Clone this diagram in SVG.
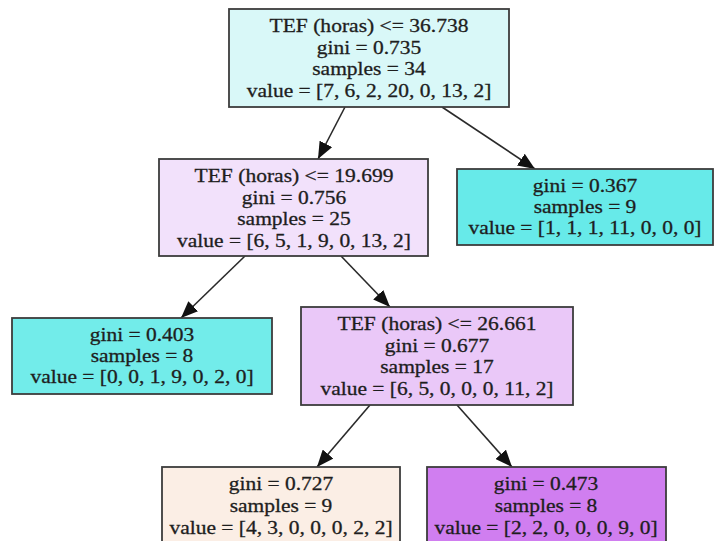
<svg xmlns="http://www.w3.org/2000/svg" width="715" height="541" viewBox="0 0 715 541">
  <style>
    .box { stroke: #3c3c3c; stroke-width: 1.8; }
    .lbl { font-family: "Liberation Serif", "Times New Roman", serif; font-size: 19px; fill: #1e1e1e; stroke: #1e1e1e; stroke-width: 0.3; text-anchor: middle;
           transform-box: fill-box; transform-origin: center; transform: scaleX(1.13); }
    .edge { stroke: #2a2a2a; stroke-width: 1.6; fill: none; marker-end: url(#arrow); }
  </style>
  <defs>
    <marker id="arrow" markerUnits="userSpaceOnUse" markerWidth="18" markerHeight="14" refX="17" refY="7" orient="auto">
      <path d="M0,0 L17,7 L0,14 z" fill="#111"/>
    </marker>
  </defs>
  <rect width="715" height="541" fill="#ffffff"/>

  <g id="connectors">
    <line class="edge" x1="345" y1="107" x2="318" y2="159"/>
    <line class="edge" x1="442" y1="107" x2="535" y2="169"/>
    <line class="edge" x1="245" y1="256" x2="181" y2="318"/>
    <line class="edge" x1="341" y1="256" x2="390" y2="307"/>
    <line class="edge" x1="370" y1="405" x2="317" y2="467"/>
    <line class="edge" x1="457" y1="405" x2="512" y2="467"/>
  </g>

  <g id="node0">
    <rect class="box" x="229" y="9" width="280" height="98" fill="#d9f8f8"/>
    <text class="lbl" x="369" y="32" textLength="176" lengthAdjust="spacingAndGlyphs">TEF (horas) &lt;= 36.738</text>
    <text class="lbl" x="369" y="54">gini = 0.735</text>
    <text class="lbl" x="369" y="75">samples = 34</text>
    <text class="lbl" x="369" y="97">value = [7, 6, 2, 20, 0, 13, 2]</text>
  </g>

  <g id="node1">
    <rect class="box" x="159" y="159" width="269" height="97" fill="#f2e1fb"/>
    <text class="lbl" x="294" y="182" textLength="176" lengthAdjust="spacingAndGlyphs">TEF (horas) &lt;= 19.699</text>
    <text class="lbl" x="294" y="204">gini = 0.756</text>
    <text class="lbl" x="294" y="225">samples = 25</text>
    <text class="lbl" x="294" y="247">value = [6, 5, 1, 9, 0, 13, 2]</text>
  </g>

  <g id="node2">
    <rect class="box" x="457" y="169" width="256" height="76" fill="#67eae9"/>
    <text class="lbl" x="585" y="192">gini = 0.367</text>
    <text class="lbl" x="585" y="213">samples = 9</text>
    <text class="lbl" x="585" y="234">value = [1, 1, 1, 11, 0, 0, 0]</text>
  </g>

  <g id="node3">
    <rect class="box" x="12" y="318" width="260" height="76" fill="#72ecea"/>
    <text class="lbl" x="142" y="341">gini = 0.403</text>
    <text class="lbl" x="142" y="362">samples = 8</text>
    <text class="lbl" x="142" y="383">value = [0, 0, 1, 9, 0, 2, 0]</text>
  </g>

  <g id="node4">
    <rect class="box" x="301" y="307" width="272" height="98" fill="#eac8f8"/>
    <text class="lbl" x="437" y="330" textLength="176" lengthAdjust="spacingAndGlyphs">TEF (horas) &lt;= 26.661</text>
    <text class="lbl" x="437" y="352">gini = 0.677</text>
    <text class="lbl" x="437" y="373">samples = 17</text>
    <text class="lbl" x="437" y="395">value = [6, 5, 0, 0, 0, 11, 2]</text>
  </g>

  <g id="node5">
    <rect class="box" x="162" y="467" width="238" height="100" fill="#fbeee5"/>
    <text class="lbl" x="281" y="490">gini = 0.727</text>
    <text class="lbl" x="281" y="512">samples = 9</text>
    <text class="lbl" x="281" y="534">value = [4, 3, 0, 0, 0, 2, 2]</text>
  </g>

  <g id="node6">
    <rect class="box" x="427" y="467" width="239" height="100" fill="#d07ef0"/>
    <text class="lbl" x="546" y="490">gini = 0.473</text>
    <text class="lbl" x="546" y="512">samples = 8</text>
    <text class="lbl" x="546" y="534">value = [2, 2, 0, 0, 0, 9, 0]</text>
  </g>
</svg>
